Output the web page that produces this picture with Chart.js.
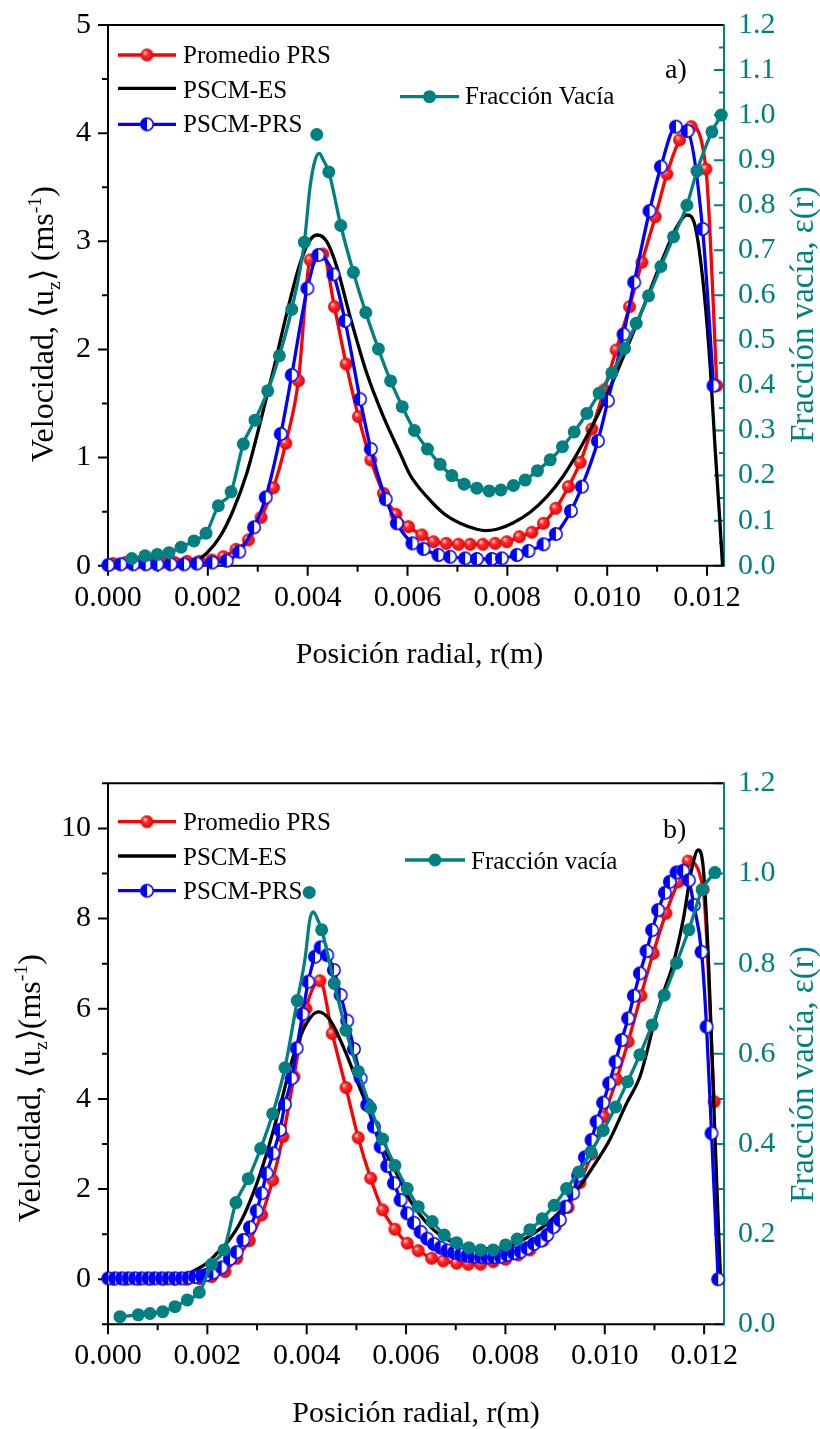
<!DOCTYPE html>
<html>
<head>
<meta charset="utf-8">
<script src="https://cdn.jsdelivr.net/npm/chart.js@4.4.1/dist/chart.umd.min.js"></script>
<style>
body { margin:0; background:#fff; }
#wrap { position:relative; width:820px; height:1429px; background:#fff; overflow:hidden; }
canvas { position:absolute; left:0; }
</style>
</head>
<body>
<div id="wrap">
<canvas id="chartA" width="820" height="740" style="top:-40px"></canvas>
<canvas id="chartB" width="820" height="729" style="top:700px"></canvas>
</div>
<script>
// tick labels
var xTicks = [0, 0.002, 0.004, 0.006, 0.008, 0.010, 0.012];
var velTicksA = [0, 1, 2, 3, 4, 5];
var fracTicksA = [0, 0.1, 0.2, 0.3, 0.4, 0.5, 0.6, 0.7, 0.8, 0.9, 1.0, 1.1, 1.2];
var velTicksB = [0, 2, 4, 6, 8, 10];
var fracTicksB = [0, 0.2, 0.4, 0.6, 0.8, 1.0, 1.2];

// ---- chart a ----
var redA_r = [0.000100,0.000347,0.000593,0.000842,0.001088,0.001335,0.001583,0.001830,0.002078,0.002311,0.002565,0.002812,0.003066,0.003313,0.003561,0.003814,0.004048,0.004303,0.004535,0.004770,0.005016,0.005265,0.005517,0.005766,0.006018,0.006287,0.006519,0.006774,0.007020,0.007255,0.007509,0.007756,0.007990,0.008242,0.008491,0.008723,0.008972,0.009224,0.009459,0.009693,0.009940,0.010180,0.010447,0.010695,0.010962,0.011196,0.011449,0.011683,0.011978,0.012198];
var redA_v = [0.02,0.03,0.03,0.03,0.03,0.03,0.04,0.04,0.053,0.083,0.152,0.238,0.447,0.721,1.132,1.711,2.827,2.882,2.395,1.865,1.378,0.977,0.669,0.475,0.361,0.284,0.222,0.207,0.198,0.198,0.198,0.207,0.222,0.268,0.309,0.392,0.531,0.731,0.956,1.264,1.625,1.995,2.395,2.806,3.227,3.622,3.937,4.06,3.668,1.665];

var blackA_r = [0,0.000842,0.001343,0.001709,0.001978,0.002244,0.002511,0.002780,0.003046,0.003313,0.003581,0.003848,0.004048,0.004194,0.004383,0.004583,0.004850,0.005184,0.005517,0.005852,0.006052,0.006387,0.006719,0.007054,0.007389,0.007555,0.007790,0.008122,0.008457,0.008792,0.009124,0.009459,0.009794,0.010126,0.010461,0.010796,0.011128,0.011397,0.011597,0.011764,0.011930,0.012064,0.012164,0.012251,0.012311];
var blackA_v = [0,0,0.005,0.03,0.115,0.268,0.515,0.854,1.317,1.81,2.334,2.796,3.012,3.058,2.996,2.765,2.303,1.779,1.378,1.039,0.839,0.638,0.485,0.392,0.337,0.324,0.337,0.398,0.494,0.638,0.832,1.086,1.378,1.717,2.087,2.473,2.857,3.135,3.243,3.135,2.58,1.84,1.07,0.453,0];

var blueA_r = [0.000006,0.000255,0.000507,0.000756,0.000988,0.001257,0.001523,0.001778,0.002090,0.002379,0.002631,0.002926,0.003160,0.003461,0.003681,0.003994,0.004214,0.004515,0.004749,0.005050,0.005265,0.005565,0.005786,0.006098,0.006319,0.006619,0.006854,0.007154,0.007389,0.007689,0.007890,0.008190,0.008423,0.008723,0.008972,0.009273,0.009493,0.009814,0.010014,0.010327,0.010541,0.010848,0.011076,0.011377,0.011609,0.011910,0.012130];
var blueA_v = [0.006,0.013,0.013,0.013,0.013,0.013,0.013,0.02,0.03,0.046,0.13,0.355,0.632,1.218,1.763,2.565,2.873,2.694,2.263,1.539,1.079,0.614,0.392,0.207,0.154,0.099,0.083,0.068,0.062,0.062,0.068,0.099,0.136,0.198,0.293,0.506,0.731,1.153,1.526,2.14,2.621,3.28,3.69,4.06,4.02,3.114,1.665];

var tealA_r = [0.000475,0.000741,0.000988,0.001222,0.001463,0.001723,0.001964,0.002210,0.002465,0.002711,0.002946,0.003200,0.003433,0.003681,0.003934,0.004182,0.004423,0.004663,0.004916,0.005164,0.005417,0.005661,0.005894,0.006138,0.006399,0.006653,0.006888,0.007134,0.007389,0.007635,0.007870,0.008122,0.008357,0.008603,0.008858,0.009104,0.009339,0.009593,0.009840,0.010094,0.010347,0.010581,0.010828,0.011076,0.011329,0.011597,0.011798,0.012098,0.012285];
var tealA_e = [0.016,0.022,0.025,0.029,0.041,0.055,0.072,0.133,0.164,0.27,0.323,0.388,0.466,0.569,0.718,0.957,0.874,0.755,0.651,0.562,0.481,0.41,0.353,0.30,0.259,0.225,0.2,0.181,0.172,0.166,0.168,0.178,0.19,0.211,0.235,0.264,0.297,0.338,0.383,0.428,0.482,0.538,0.599,0.664,0.73,0.80,0.876,0.963,1.0];
// smoothed teal line near its apex (passes below the top marker)
var tealApexA_r = [0.004048, 0.004148, 0.004234, 0.004315];
var tealApexA_e = [0.841, 0.900, 0.915, 0.900];

// ---- chart b ----
var redB_r = [0.000107,0.000342,0.000610,0.000845,0.001113,0.001348,0.001584,0.001851,0.002087,0.002355,0.002590,0.002844,0.003093,0.003315,0.003522,0.003743,0.003985,0.004266,0.004514,0.004790,0.005037,0.005287,0.005528,0.005776,0.006023,0.006245,0.006514,0.006748,0.007017,0.007251,0.007500,0.007754,0.008004,0.008257,0.008493,0.008760,0.009010,0.009263,0.009499,0.009734,0.009982,0.010237,0.010471,0.010727,0.010974,0.011230,0.011477,0.011678,0.011980,0.012202];
var redB_v = [0,0,0,0,0,0,0,0.01,0.058,0.169,0.466,0.856,1.426,2.2,3.162,4.49,6.0,6.62,5.45,4.25,3.14,2.24,1.537,1.109,0.798,0.634,0.466,0.406,0.355,0.333,0.333,0.39,0.443,0.539,0.65,0.856,1.182,1.596,2.142,2.778,3.606,4.435,5.269,6.288,7.228,8.115,8.816,9.275,8.647,3.938];

var blackB_r = [0,0.000443,0.000845,0.001147,0.001449,0.001584,0.001791,0.001992,0.002188,0.002389,0.002656,0.002924,0.003194,0.003461,0.003729,0.003999,0.004232,0.004468,0.004735,0.005005,0.005273,0.005540,0.005876,0.006078,0.006414,0.006748,0.007084,0.007420,0.007754,0.008090,0.008426,0.008760,0.009096,0.009432,0.009767,0.010103,0.010439,0.010707,0.010841,0.010974,0.011175,0.011377,0.011578,0.011747,0.011880,0.011980,0.012081,0.012182,0.012282,0.012331];
var blackB_v = [0.05,0.05,0.03,0.0,0.03,0.1,0.22,0.36,0.57,0.8,1.24,1.91,2.79,3.83,4.94,5.68,5.93,5.75,5.16,4.42,3.68,2.94,2.2,1.75,1.25,0.93,0.77,0.68,0.68,0.74,0.92,1.166,1.5,1.96,2.5,3.1,3.9,4.49,5.01,5.6,6.34,7.0,7.97,9.08,9.52,9.15,7.23,4.27,1.31,0];

var blueB_r = [0.000006,0.000141,0.000276,0.000409,0.000543,0.000678,0.000811,0.000946,0.001081,0.001214,0.001348,0.001483,0.001616,0.001751,0.001886,
  0.001972,0.002119,0.002288,0.002455,0.002590,0.002723,0.002858,0.002993,0.003093,0.003194,0.003327,0.003461,0.003562,0.003697,0.003798,0.003918,0.004031,0.004166,0.004281,
  0.004413,0.004548,0.004683,0.004816,0.004951,0.005086,0.005218,0.005353,0.005488,0.005621,0.005756,0.005890,0.006023,0.006158,0.006293,0.006426,
  0.006561,0.006695,0.006828,0.006963,0.007098,0.007231,0.007366,0.007501,0.007633,0.007768,0.007903,0.008036,0.008171,0.008305,0.008438,0.008573,0.008708,0.008841,
  0.008962,0.009096,0.009211,0.009364,0.009465,0.009600,0.009734,0.009835,0.009968,0.010089,0.010217,0.010338,0.010471,0.010586,0.010707,0.010841,0.010954,0.011075,0.011210,0.011310,0.011445,0.011578,0.011692,0.011793,0.011948,0.012049,0.012149,0.012282];
var blueB_v = [0.02,0.02,0.02,0.02,0.02,0.02,0.02,0.02,0.02,0.02,0.02,0.02,0.03,0.05,0.07,
  0.095,0.147,0.26,0.45,0.6,0.871,1.15,1.52,1.907,2.35,2.794,3.31,3.88,4.457,5.122,5.882,6.599,7.153,7.361,
  7.19,6.858,6.304,5.734,5.106,4.457,3.865,3.384,2.94,2.512,2.129,1.758,1.463,1.25,1.05,0.9,
  0.78,0.70,0.64,0.59,0.55,0.52,0.50,0.495,0.488,0.49,0.50,0.539,0.576,0.612,0.687,0.783,0.856,0.982,
  1.153,1.315,1.61,1.907,2.3,2.705,3.089,3.495,3.916,4.346,4.825,5.306,5.787,6.288,6.785,7.279,7.745,8.188,8.572,8.816,9.024,9.06,8.85,8.3,7.26,5.6,3.237,0];

var tealB_r = [0.000241,0.000610,0.000845,0.001101,0.001348,0.001596,0.001837,0.002087,0.002334,0.002576,0.002824,0.003073,0.003315,0.003562,0.003810,0.004051,0.004301,0.004554,0.004790,0.005037,0.005287,0.005528,0.005776,0.006023,0.006245,0.006526,0.006768,0.007017,0.007265,0.007500,0.007754,0.008004,0.008237,0.008493,0.008740,0.008982,0.009231,0.009479,0.009720,0.009968,0.010217,0.010459,0.010707,0.010954,0.011196,0.011445,0.011692,0.011960,0.012216];
var tealB_e = [0.017,0.021,0.024,0.028,0.039,0.054,0.071,0.133,0.165,0.270,0.323,0.390,0.467,0.569,0.718,0.958,0.875,0.756,0.652,0.561,0.480,0.411,0.352,0.301,0.261,0.228,0.198,0.181,0.170,0.165,0.165,0.176,0.189,0.210,0.234,0.264,0.301,0.338,0.382,0.430,0.482,0.538,0.598,0.664,0.730,0.801,0.875,0.964,1.002];
var tealApexB_r = [0.003965, 0.004065, 0.004132, 0.004232];
var tealApexB_e = [0.810, 0.899, 0.915, 0.895];

var TEAL = '#008080';
var RED = '#ff0000';
var BLUE = '#0000ff';
var SERIF = '"Liberation Serif", "Times New Roman", serif';
Chart.defaults.font.family = SERIF;

function pts(rs, vs) {
	return rs.map(function(r, i){ return {x: r, y: vs[i]}; });
}

// teal markers minus the one the fitted curve skips, plus the apex of that curve
function tealLine(rs, es, apexR, apexE) {
	var lo = apexR[0], hi = apexR[apexR.length - 1];
	var out = [];
	rs.forEach(function(r, i){ if (r < lo || r > hi) out.push({x: r, y: es[i]}); });
	apexR.forEach(function(r, i){ out.push({x: r, y: apexE[i]}); });
	out.sort(function(a, b){ return a.x - b.x; });
	return out;
}

function makeBall(r) {
	var c = document.createElement('canvas');
	var s = Math.ceil(2 * r + 2), m = s / 2;
	c.width = s; c.height = s;
	var g = c.getContext('2d');
	var gr = g.createRadialGradient(m - r * 0.35, m - r * 0.4, 0.3, m, m, r);
	gr.addColorStop(0, '#ffe6e6');
	gr.addColorStop(0.35, '#ff3030');
	gr.addColorStop(1, '#e80000');
	g.fillStyle = gr;
	g.beginPath(); g.arc(m, m, r, 0, 2 * Math.PI); g.fill();
	return c;
}

function makeHalf(r) {
	var c = document.createElement('canvas');
	var s = Math.ceil(2 * r + 3), m = s / 2;
	c.width = s; c.height = s;
	var g = c.getContext('2d');
	g.fillStyle = '#fff';
	g.beginPath(); g.arc(m, m, r, 0, 2 * Math.PI); g.fill();
	g.fillStyle = BLUE;
	g.beginPath(); g.moveTo(m, m); g.arc(m, m, r, Math.PI / 2, Math.PI * 1.5); g.closePath(); g.fill();
	g.strokeStyle = BLUE; g.lineWidth = 1.5;
	g.beginPath(); g.arc(m, m, r - 0.3, 0, 2 * Math.PI); g.stroke();
	return c;
}

var ballRed = makeBall(6.5);
var halfBlue = makeHalf(6.5);

function minors(ticks, lo, hi) {
	var step = ticks[1] - ticks[0];
	var out = [];
	for (var v = ticks[0] - step / 2; v <= hi + 1e-9; v += step) {
		if (v >= lo - 1e-9) out.push(v);
	}
	return out;
}

function richText(ctx, parts, x, y, size, color) {
	ctx.save();
	ctx.translate(x, y);
	ctx.rotate(-Math.PI / 2);
	ctx.fillStyle = color;
	ctx.textBaseline = 'alphabetic';
	var cx = 0;
	parts.forEach(function(p){
		var fs = p.s ? size * 0.62 : size;
		var dy = p.s === 'sub' ? size * 0.22 : (p.s === 'sup' ? -size * 0.4 : 0);
		ctx.font = fs + 'px ' + SERIF;
		ctx.fillText(p.t, cx, dy);
		cx += ctx.measureText(p.t).width;
	});
	ctx.restore();
}

function makeDecor(cfg) {
	return {
		id: 'decor',
		beforeDatasetsDraw: function(chart) {
			var ctx = chart.ctx, a = chart.chartArea, sc = chart.scales;
			ctx.save();
			ctx.lineWidth = 2;
			ctx.strokeStyle = '#000';
			ctx.beginPath();
			xTicks.forEach(function(v){ var p = sc.x.getPixelForValue(v); ctx.moveTo(p, a.bottom); ctx.lineTo(p, a.bottom + 10); });
			minors(xTicks, 0, cfg.xMax).forEach(function(v){ var p = sc.x.getPixelForValue(v); ctx.moveTo(p, a.bottom); ctx.lineTo(p, a.bottom + 6); });
			cfg.velTicks.forEach(function(v){ var p = sc.y.getPixelForValue(v); ctx.moveTo(a.left, p); ctx.lineTo(a.left - 10, p); });
			minors(cfg.velTicks, cfg.yMin, cfg.yMax).forEach(function(v){ var p = sc.y.getPixelForValue(v); ctx.moveTo(a.left, p); ctx.lineTo(a.left - 6, p); });
			ctx.stroke();
			ctx.strokeStyle = TEAL;
			ctx.beginPath();
			cfg.fracTicks.forEach(function(v){ var p = sc.y2.getPixelForValue(v); ctx.moveTo(a.right, p); ctx.lineTo(a.right - 10, p); });
			minors(cfg.fracTicks, 0, 1.2).forEach(function(v){ var p = sc.y2.getPixelForValue(v); ctx.moveTo(a.right, p); ctx.lineTo(a.right - 5, p); });
			ctx.stroke();
			// frame
			ctx.strokeStyle = '#000';
			ctx.beginPath();
			ctx.moveTo(a.right, a.top); ctx.lineTo(a.left, a.top); ctx.lineTo(a.left, a.bottom); ctx.lineTo(a.right, a.bottom);
			ctx.stroke();
			ctx.strokeStyle = TEAL;
			ctx.beginPath(); ctx.moveTo(a.right, a.top - 1); ctx.lineTo(a.right, a.bottom + 1); ctx.stroke();
			ctx.restore();
		},
		afterDraw: function(chart) {
			var ctx = chart.ctx;
			ctx.save();
			ctx.translate(0, -cfg.top);
			cfg.legend.forEach(function(l){
				ctx.strokeStyle = l.color; ctx.lineWidth = 3.3;
				ctx.beginPath(); ctx.moveTo(l.x1, l.y); ctx.lineTo(l.x2, l.y); ctx.stroke();
				var mx = (l.x1 + l.x2) / 2;
				if (l.mark === 'teal') {
					ctx.fillStyle = TEAL; ctx.beginPath(); ctx.arc(mx, l.y, 6.5, 0, 2 * Math.PI); ctx.fill();
				} else if (l.mark) {
					ctx.drawImage(l.mark, mx - l.mark.width / 2, l.y - l.mark.height / 2);
				}
				ctx.fillStyle = '#000';
				ctx.font = '25px ' + SERIF;
				ctx.textAlign = 'left'; ctx.textBaseline = 'alphabetic';
				ctx.fillText(l.text, l.tx, l.ty);
			});
			ctx.font = '28px ' + SERIF;
			ctx.fillText(cfg.tag.text, cfg.tag.x, cfg.tag.y);
			ctx.font = '30px ' + SERIF;
			ctx.textAlign = 'center';
			ctx.fillText('Posición radial, r(m)', cfg.xTitle.x, cfg.xTitle.y);
			ctx.textAlign = 'left';
			richText(ctx, cfg.yTitle.parts, cfg.yTitle.x, cfg.yTitle.y, 32, '#000');
			richText(ctx, [{t: 'Fracción vacía, ε(r)'}], cfg.fTitle.x, cfg.fTitle.y, 33, TEAL);
			ctx.restore();
		}
	};
}

function datasets(d) {
	return [
		{ data: d.tealLine, yAxisID: 'y2', borderColor: TEAL, borderWidth: 3.3, pointRadius: 0, cubicInterpolationMode: 'monotone', order: 0 },
		{ data: d.teal, yAxisID: 'y2', showLine: false, pointStyle: 'circle', pointRadius: 6.5, pointBackgroundColor: TEAL, pointBorderWidth: 0, order: 0, clip: false },
		{ data: d.blue, borderColor: BLUE, borderWidth: 3.3, pointStyle: halfBlue, pointRadius: 6.5, cubicInterpolationMode: 'monotone', order: 1, clip: false },
		{ data: d.black, borderColor: '#000', borderWidth: 3.3, pointRadius: 0, cubicInterpolationMode: 'monotone', order: 2, clip: false },
		{ data: d.red, borderColor: RED, borderWidth: 3.3, pointStyle: ballRed, pointRadius: 6.5, cubicInterpolationMode: 'monotone', order: 3, clip: false }
	];
}

function setTicks(list) {
	return function(s){ s.ticks = list.map(function(v){ return {value: v}; }); };
}

function renderChart(canvas, d, cfg) {
	return new Chart(canvas, {
		type: 'line',
		data: { datasets: datasets(d) },
		options: {
			responsive: false,
			animation: false,
			events: [],
			layout: { padding: { top: cfg.padTop, left: 0, right: 0, bottom: 0 } },
			plugins: { legend: { display: false }, tooltip: { enabled: false } },
			scales: {
				x: {
					type: 'linear', min: 0, max: cfg.xMax,
					afterBuildTicks: setTicks(xTicks),
					afterFit: function(s){ s.height = cfg.xH; },
					grid: { display: false, drawTicks: false }, border: { display: false },
					ticks: { font: { size: 30 }, color: '#000', padding: 14, maxRotation: 0, autoSkip: false,
						callback: function(v){ return Number(v).toFixed(3); } }
				},
				y: {
					position: 'left', min: cfg.yMin, max: cfg.yMax,
					afterBuildTicks: setTicks(cfg.velTicks),
					afterFit: function(s){ s.width = 108; },
					grid: { display: false, drawTicks: false }, border: { display: false },
					ticks: { font: { size: 30 }, color: '#000', padding: 17, callback: function(v){ return String(v); } }
				},
				y2: {
					position: 'right', min: 0, max: 1.2,
					afterBuildTicks: setTicks(cfg.fracTicks),
					afterFit: function(s){ s.width = 96; },
					grid: { display: false, drawTicks: false }, border: { display: false },
					ticks: { font: { size: 30 }, color: TEAL, padding: 14, callback: function(v){ return Number(v).toFixed(1); } }
				}
			}
		},
		plugins: [makeDecor(cfg)]
	});
}

var dataA = {
	red: pts(redA_r, redA_v), black: pts(blackA_r, blackA_v), blue: pts(blueA_r, blueA_v),
	teal: pts(tealA_r, tealA_e), tealLine: tealLine(tealA_r, tealA_e, tealApexA_r, tealApexA_e)
};
var dataB = {
	red: pts(redB_r, redB_v), black: pts(blackB_r, blackB_v), blue: pts(blueB_r, blueB_v),
	teal: pts(tealB_r, tealB_e), tealLine: tealLine(tealB_r, tealB_e, tealApexB_r, tealApexB_e)
};

// canvas a starts 40px above the page so the top padding wins over label padding
renderChart(document.getElementById('chartA'), dataA, {
	top: -40, padTop: 65, xH: 134.3, xMax: 0.01234, yMin: 0, yMax: 5,
	velTicks: velTicksA, fracTicks: fracTicksA,
	legend: [
		{ x1: 118, x2: 176, y: 55, color: RED, mark: ballRed, text: 'Promedio PRS', tx: 183, ty: 63.3 },
		{ x1: 118, x2: 176, y: 88.3, color: '#000', mark: null, text: 'PSCM-ES', tx: 183, ty: 97.7 },
		{ x1: 118, x2: 176, y: 124.3, color: BLUE, mark: halfBlue, text: 'PSCM-PRS', tx: 183, ty: 132.3 },
		{ x1: 400, x2: 459, y: 96.7, color: TEAL, mark: 'teal', text: 'Fracción Vacía', tx: 465, ty: 104 }
	],
	tag: { text: 'a)', x: 665, y: 78 },
	xTitle: { x: 419.5, y: 663 },
	yTitle: { x: 53.3, y: 462, parts: [{t: 'Velocidad, \u27E8u'}, {t: 'z', s: 'sub'}, {t: '\u27E9 (ms'}, {t: '-1', s: 'sup'}, {t: ')'}] },
	fTitle: { x: 813, y: 443 }
});

renderChart(document.getElementById('chartB'), dataB, {
	top: 700, padTop: 83.3, xH: 104.7, xMax: 0.0124, yMin: -1, yMax: 11,
	velTicks: velTicksB, fracTicks: fracTicksB,
	legend: [
		{ x1: 118, x2: 176, y: 821.7, color: RED, mark: ballRed, text: 'Promedio PRS', tx: 183, ty: 830 },
		{ x1: 118, x2: 176, y: 856, color: '#000', mark: null, text: 'PSCM-ES', tx: 183, ty: 865 },
		{ x1: 118, x2: 176, y: 890.7, color: BLUE, mark: halfBlue, text: 'PSCM-PRS', tx: 183, ty: 899 },
		{ x1: 405, x2: 465, y: 860, color: TEAL, mark: 'teal', text: 'Fracción vacía', tx: 471, ty: 869.3 }
	],
	tag: { text: 'b)', x: 663, y: 838.3 },
	xTitle: { x: 416, y: 1421.7 },
	yTitle: { x: 40, y: 1222, parts: [{t: 'Velocidad, \u27E8u'}, {t: 'z', s: 'sub'}, {t: '\u27E9(ms'}, {t: '-1', s: 'sup'}, {t: ')'}] },
	fTitle: { x: 813, y: 1203 }
});
</script>
</body>
</html>
